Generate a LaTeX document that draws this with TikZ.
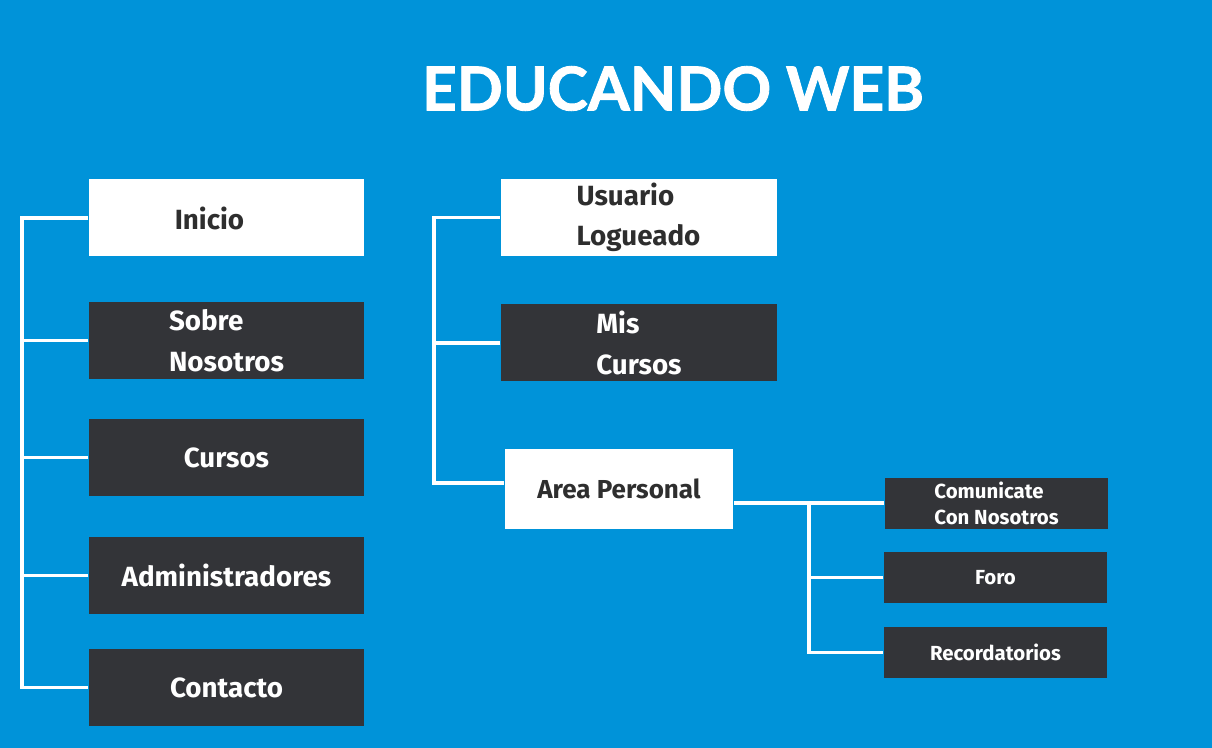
\documentclass[tikz,border=0pt]{standalone}
\usepackage{fontspec}
\setmainfont{Fira Sans}
\newfontfamily\titlefont{Lato}[BoldFeatures={FakeBold=1.4}]
\usepackage{tikz}
\definecolor{skyblue}{HTML}{0093D9}
\definecolor{slate}{HTML}{333438}
\definecolor{ink}{HTML}{2E2E2E}
\tikzset{
  wire/.style={draw=white, line width=0.9pt},
  litebox/.style={fill=white, text=ink, inner sep=0pt, align=left, font=\bfseries\fontsize{7.9}{11.5}\selectfont},
  darkbox/.style={fill=slate, text=white, inner sep=0pt, align=left, font=\bfseries\fontsize{7.9}{11.5}\selectfont},
  bigbox/.style={minimum width=2.75cm, minimum height=0.77cm},
  smallbox/.style={minimum width=2.23cm, minimum height=0.51cm, font=\bfseries\fontsize{5.8}{7.4}\selectfont}
}

\begin{document}
\begin{tikzpicture}
%\draw [very thin, gray] (0,0) grid (12,-7);
\fill [skyblue] (0,0) rectangle (12.12,-7.48);
\useasboundingbox (0,0) rectangle (12.12,-7.48);
\node [text=white, font=\titlefont\bfseries\fontsize{17.2}{20}\selectfont] (title) at (6.73,-0.885) {EDUCANDO WEB};

% left column
\node [litebox, bigbox] (inicio) at (2.265,-2.18) {Inicio\hspace{0.34cm}};
\node [darkbox, bigbox] (sobre) at (2.265,-3.405) {Sobre\\Nosotros};
\node [darkbox, bigbox] (cursos) at (2.265,-4.575) {Cursos};
\node [darkbox, bigbox] (admin) at (2.265,-5.755) {Administradores};
\node [darkbox, bigbox] (contacto) at (2.265,-6.875) {Contacto};

% middle column
\node [litebox, bigbox, minimum width=2.76cm] (usuario) at (6.385,-2.175) {Usuario\\Logueado};
\node [darkbox, bigbox, minimum width=2.76cm] (miscursos) at (6.39,-3.43) {Mis\\Cursos};
\node [litebox, minimum width=2.28cm, minimum height=0.8cm, font=\bfseries\fontsize{7.4}{9}\selectfont] (area) at (6.19,-4.89) {Area Personal};

% right column
\node [darkbox, smallbox] (comunica) at (9.965,-5.03) {Comunicate\\Con Nosotros};
\node [darkbox, smallbox] (foro) at (9.955,-5.775) {Foro};
\node [darkbox, smallbox] (recuerda) at (9.955,-6.525) {Recordatorios};

\coordinate (ltrunk) at (0.22,0);
\coordinate (mtrunk) at (4.34,0);
\coordinate (rtrunk) at (8.09,0);

\draw [wire] (inicio.west) -- (inicio.west -| ltrunk) -- (contacto.west -| ltrunk) -- (contacto.west);
\foreach \n in {sobre,cursos,admin}
  \draw [wire] (\n.west) -- (\n.west -| ltrunk);

\draw [wire] (usuario.west) -- (usuario.west -| mtrunk) -- ([yshift=0.06cm]area.west -| mtrunk) -- ([yshift=0.06cm]area.west);
\draw [wire] (miscursos.west) -- (miscursos.west -| mtrunk);

\draw [wire] (comunica.west) -- (comunica.west -| area.east);
\draw [wire] (comunica.west -| rtrunk) -- (recuerda.west -| rtrunk) -- (recuerda.west);
\draw [wire] (foro.west) -- (foro.west -| rtrunk);
\end{tikzpicture}
\end{document}
